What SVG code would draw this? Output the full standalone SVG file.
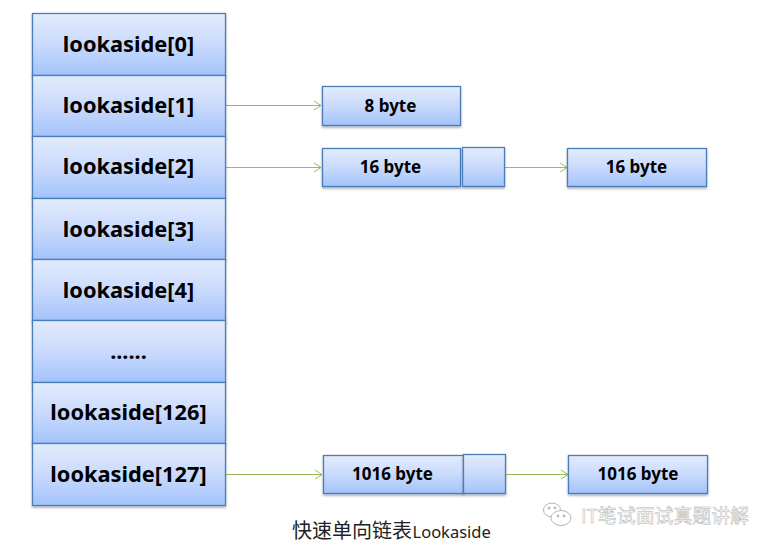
<svg xmlns="http://www.w3.org/2000/svg" width="773" height="550" viewBox="0 0 773 550">
<style>
.b{fill:url(#g);stroke:#4a7ebb;stroke-width:1.3}
.s{filter:url(#sh)}
.t{font-family:"Noto Sans","Liberation Sans",sans-serif;font-weight:700;fill:#000;text-anchor:middle}
.l{font-size:21.8px}
.m{font-size:17px}
.c{stroke:#9bbb59;stroke-width:1;fill:none;marker-end:url(#a)}
</style>
<defs>
<linearGradient id="g" x1="0" y1="0" x2="0" y2="1"><stop offset="0" stop-color="#e3ecfd"/><stop offset=".5" stop-color="#c9dafc"/><stop offset="1" stop-color="#a3c3fb"/></linearGradient>
<marker id="a" markerUnits="userSpaceOnUse" markerWidth="10" markerHeight="12" refX="8" refY="6" orient="auto"><path d="M1 1.500L8 6L1 10.500" fill="none" stroke="#9bbb59" stroke-width="1"/></marker>
<filter id="sh" x="-10%" y="-10%" width="120%" height="125%"><feDropShadow dx="0" dy="1.5" stdDeviation="1.2" flood-color="#000" flood-opacity=".35"/></filter>
</defs>
<g id="connectors">
<path class="c" d="M226 105.500H321"/>
<path class="c" d="M226 167.500H321"/>
<path class="c" d="M505 167.500H567"/>
<path class="c" d="M226 474.500H322"/>
<path class="c" d="M506 474.500H568"/>
</g>
<g id="lookaside-0"><rect class="b s" x="32.500" y="13.500" width="193" height="62"/><text class="t l" x="128.500" y="52">lookaside[0]</text></g>
<g id="lookaside-1"><rect class="b s" x="32.500" y="75.500" width="193" height="61"/><text class="t l" x="128.500" y="113">lookaside[1]</text></g>
<g id="lookaside-2"><rect class="b s" x="32.500" y="136.500" width="193" height="62"/><text class="t l" x="128.500" y="174">lookaside[2]</text></g>
<g id="lookaside-3"><rect class="b s" x="32.500" y="198.500" width="193" height="61"/><text class="t l" x="128.500" y="237">lookaside[3]</text></g>
<g id="lookaside-4"><rect class="b s" x="32.500" y="259.500" width="193" height="61"/><text class="t l" x="128.500" y="298">lookaside[4]</text></g>
<g id="lookaside-dots"><rect class="b s" x="32.500" y="320.500" width="193" height="62"/><text class="t l" x="128.500" y="359">......</text></g>
<g id="lookaside-126"><rect class="b s" x="32.500" y="382.500" width="193" height="61"/><text class="t l" x="128.500" y="420">lookaside[126]</text></g>
<g id="lookaside-127"><rect class="b s" x="32.500" y="443.500" width="193" height="62"/><text class="t l" x="128.500" y="482">lookaside[127]</text></g>
<g id="n8"><rect class="b s" x="322.500" y="86.500" width="138" height="39"/><text class="t m" x="390.500" y="112">8 byte</text></g>
<g id="n16a"><rect class="b s" x="322.500" y="148.500" width="138" height="38"/><text class="t m" x="390.500" y="173">16 byte</text></g>
<g id="n16a-next"><rect class="b s" x="462.500" y="147.500" width="42" height="39"/></g>
<g id="n16b"><rect class="b s" x="567.500" y="148.500" width="139" height="38"/><text class="t m" x="636.500" y="173">16 byte</text></g>
<g id="n1016a"><rect class="b s" x="323.500" y="455.500" width="140" height="38"/><text class="t m" x="392.500" y="480">1016 byte</text></g>
<g id="n1016a-next"><rect class="b s" x="463.500" y="454.500" width="42" height="39"/></g>
<g id="n1016b"><rect class="b s" x="568.500" y="455.500" width="139" height="38"/><text class="t m" x="638" y="480">1016 byte</text></g>
<text x="292" y="538" font-size="20" fill="#222" font-family="'Liberation Serif','Noto Sans CJK SC',serif">快速单向链表<tspan font-family="'Noto Sans',sans-serif" font-size="16.500" dx="0.5">Lookaside</tspan></text>
<g id="watermark" fill="none" stroke="#b5b5b5" stroke-width="1">
<ellipse cx="552" cy="510" rx="8.500" ry="7"/>
<ellipse cx="561" cy="518" rx="10" ry="7.500" fill="#fff"/>
<circle cx="558" cy="516" r="1" fill="#b5b5b5"/><circle cx="564" cy="516" r="1" fill="#b5b5b5"/>
<circle cx="549" cy="508" r="1" fill="#b5b5b5"/><circle cx="555" cy="508" r="1" fill="#b5b5b5"/>
</g>
<text x="581" y="523" font-size="18.900" fill="#fff" stroke="#b0b0b0" stroke-width=".5" font-family="'Noto Sans CJK SC',sans-serif">IT笔试面试真题讲解</text>
</svg>
